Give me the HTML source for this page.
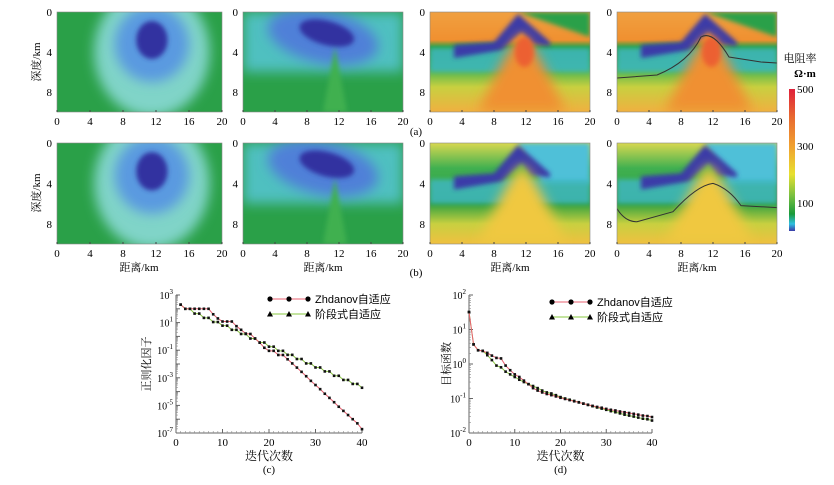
<!DOCTYPE html>
<html><head><meta charset="utf-8">
<style>
html,body{margin:0;padding:0;background:#fff;}
body{width:834px;height:480px;overflow:hidden;position:relative;font-family:"Liberation Serif","Noto Serif CJK SC",serif;}
svg text{font-family:"Liberation Serif","Noto Serif CJK SC",serif;}
svg text.sans{font-family:"Liberation Sans","Noto Sans CJK SC",sans-serif;}
</style></head>
<body>
<svg id="fig" width="834" height="480" viewBox="0 0 834 480">
<defs>
<filter id="bl" x="-30%" y="-30%" width="160%" height="160%"><feGaussianBlur stdDeviation="6"/></filter>
<filter id="bl2" x="-30%" y="-30%" width="160%" height="160%"><feGaussianBlur stdDeviation="2.5"/></filter>
<linearGradient id="cbar" x1="0" y1="1" x2="0" y2="0">
<stop offset="0" stop-color="#3a3aa8"/><stop offset="0.05" stop-color="#30c0e0"/><stop offset="0.12" stop-color="#1a9a3a"/><stop offset="0.25" stop-color="#7ac040"/><stop offset="0.4" stop-color="#e8e030"/><stop offset="0.6" stop-color="#f0a030"/><stop offset="0.8" stop-color="#e86a30"/><stop offset="1" stop-color="#e0203a"/>
</linearGradient>
<linearGradient id="g3" x1="0" y1="0" x2="0" y2="1">
<stop offset="0" stop-color="#f0a040"/><stop offset="0.28" stop-color="#f09030"/><stop offset="0.35" stop-color="#2aa040"/><stop offset="0.55" stop-color="#3ab050"/><stop offset="0.75" stop-color="#c8d040"/><stop offset="1" stop-color="#f0b040"/>
</linearGradient>
<linearGradient id="g3b" x1="0" y1="0" x2="0" y2="1">
<stop offset="0" stop-color="#d8d850"/><stop offset="0.25" stop-color="#40b050"/><stop offset="0.6" stop-color="#30a040"/><stop offset="0.8" stop-color="#c8d040"/><stop offset="1" stop-color="#f0c040"/>
</linearGradient>
</defs>

<g id="panels"></g>

<rect x="789" y="89" width="6" height="142" fill="url(#cbar)"/>
<text x="800" y="62" font-size="11" text-anchor="middle">电阻率</text>
<text x="805" y="77" font-size="11" font-weight="bold" text-anchor="middle">Ω·m</text>
<text x="797" y="93" font-size="11">500</text>
<text x="797" y="150" font-size="11">300</text>
<text x="797" y="207" font-size="11">100</text>
<text x="416" y="135" font-size="11" text-anchor="middle">(a)</text>
<text x="416" y="276" font-size="11" text-anchor="middle">(b)</text>
<g id="charts"></g>
</svg>
<script>
const NS='http://www.w3.org/2000/svg';
function mk(tag,attrs,parent){const e=document.createElementNS(NS,tag);for(const k in attrs)e.setAttribute(k,attrs[k]);parent.appendChild(e);return e;}
const panelsG=document.getElementById('panels');
const panelXs=[57,243,430,617];
const panelW=160;
const rows=[{y:12,h:100,ty:125},{y:143,h:101,ty:257}];
const xTicks=[0,4,8,12,16,20];
const yTicks=[0,4,8];

function drawPanel(pi,ri){
  const x0=panelXs[pi], W=(pi===0?165:panelW), y0=rows[ri].y, H=rows[ri].h;
  const g=mk('g',{},panelsG);
  
  
  const cid='clip'+pi+ri;
  const cp=mk('clipPath',{id:cid},g); mk('rect',{x:x0,y:y0,width:W,height:H},cp);
  const c=mk('g',{'clip-path':'url(#'+cid+')'},g);
  const X=km=>x0+km/20*W, Y=km=>y0+km/10*H, S=W/20;
  const P=pts=>'M'+pts.map(p=>X(p[0])+' '+Y(p[1])).join(' L')+' Z';
  if(pi===0){
    mk('rect',{x:x0,y:y0,width:W,height:H,fill:'#2aa048'},c);
    mk('ellipse',{cx:X(11.5),cy:Y(4),rx:7*S,ry:6.5*H/10,fill:'#80d4c8',filter:'url(#bl)'},c);
    mk('ellipse',{cx:X(11.5),cy:Y(3.2),rx:4.5*S,ry:3.8*H/10,fill:'#5a9ae0',filter:'url(#bl)'},c);
    mk('ellipse',{cx:X(11.5),cy:Y(2.8),rx:1.9*S,ry:1.9*H/10,fill:'#3030a0',filter:'url(#bl2)'},c);
  } else if(pi===1){
    mk('rect',{x:x0,y:y0,width:W,height:H,fill:'#2aa048'},c);
    mk('rect',{x:x0,y:y0,width:W,height:H*0.6,fill:'#50c0c0',filter:'url(#bl)'},c);
    mk('ellipse',{cx:X(10),cy:Y(2.5),rx:7*S,ry:2.6*H/10,fill:'#5080d8',filter:'url(#bl)',transform:'rotate(12 '+X(10)+' '+Y(2.5)+')'},c);
    mk('ellipse',{cx:X(10.5),cy:Y(2),rx:3.5*S,ry:1.2*H/10,fill:'#3030a0',filter:'url(#bl2)',transform:'rotate(15 '+X(10)+' '+Y(2)+')'},c);
    mk('path',{d:'M'+X(10)+' '+Y(10)+' L'+X(11.5)+' '+Y(3.5)+' L'+X(13)+' '+Y(10)+' Z',fill:'#40b050',filter:'url(#bl2)'},c);
  } else {
    mk('rect',{x:x0,y:y0,width:W,height:H,fill:'url(#'+(ri===0?'g3':'g3b')+')'},c);
    if(ri===0){
      mk('path',{d:P([[11,0],[20,0],[20,2.5]]),fill:'#2aa048',filter:'url(#bl2)'},c);
    } else {
      mk('path',{d:P([[11,0],[20,0],[20,4],[14,4]]),fill:'#50c0d8',filter:'url(#bl2)'},c);
    }
    mk('rect',{x:x0,y:Y(3.6),width:W,height:2.4*H/10,fill:'#40b8c8',filter:'url(#bl2)',opacity:0.8},c);
    mk('path',{d:P([[3,3.3],[8,3],[11,0.2],[15,3],[15,3.4],[12.5,3.2],[11.5,2],[9,3.8],[3,4.6]]),fill:'#3a3aa8',filter:'url(#bl2)'},c);
    mk('path',{d:'M'+X(6)+' '+Y(10)+' Q'+X(10)+' '+Y(3)+' '+X(11.5)+' '+Y(2.2)+' Q'+X(13)+' '+Y(3)+' '+X(17)+' '+Y(10)+' Z',fill:ri===0?'#f09030':'#f0c840',filter:'url(#bl)'},c);
    if(ri===0) mk('ellipse',{cx:X(11.8),cy:Y(4),rx:1.2*S,ry:1.5*H/10,fill:'#ec6030',filter:'url(#bl2)'},c);
    if(pi===3){
      const d=ri===0?
        'M'+X(0)+' '+Y(6.6)+' L'+X(5)+' '+Y(6.3)+' Q'+X(9)+' '+Y(5)+' '+X(10.5)+' '+Y(2.5)+' Q'+X(12)+' '+Y(1.8)+' '+X(14)+' '+Y(4.5)+' L'+X(18)+' '+Y(5)+' L'+X(20)+' '+Y(5.1):
        'M'+X(0)+' '+Y(6.5)+' Q'+X(1)+' '+Y(7.8)+' '+X(2.5)+' '+Y(7.8)+' L'+X(7)+' '+Y(6.8)+' Q'+X(10)+' '+Y(4.2)+' '+X(12)+' '+Y(4)+' Q'+X(14)+' '+Y(4.5)+' '+X(15.5)+' '+Y(6.2)+' L'+X(20)+' '+Y(6.4);
      const l=mk('path',{d:d,fill:'none',stroke:'#333',"stroke-width":1},c);
      
      
    }
  }
  mk('rect',{x:x0,y:y0,width:W,height:H,fill:'none',stroke:'#888','stroke-width':0.6},g);
  xTicks.forEach(t=>{
    mk('line',{x1:X(t),x2:X(t),y1:y0+H,y2:y0+H-2,stroke:'#444'},g);
    const tx=mk('text',{x:X(t),y:rows[ri].ty,'font-size':11,'text-anchor':'middle'},g);tx.textContent=t;
    
    
  });
  yTicks.forEach(t=>{
    const tx=mk('text',{x:x0-5,y:Y(t)+4,'font-size':11,'text-anchor':'end'},g);tx.textContent=t;
    
    
  });
}
for(let r=0;r<2;r++)for(let p=0;p<4;p++)drawPanel(p,r);
[[40,62],[40,193]].forEach(([x,y])=>{
  const t=mk('text',{x:x,y:y,'font-size':11,'text-anchor':'middle',transform:'rotate(-90 '+x+' '+y+')'},panelsG);t.textContent='深度/km';
  
  
});
[139,323,510,697].forEach(x=>{
  const t=mk('text',{x:x,y:271,'font-size':11,'text-anchor':'middle'},panelsG);t.textContent='距离/km';
  
  
});

const iterC=[1,2,3,4,5,6,7,8,9,10,11,12,13,14,15,16,17,18,19,20,21,22,23,24,25,26,27,28,29,30,31,32,33,34,35,36,37,38,39,40];
const zhdanovC=[200,100,100,100,100,100,100,40,20,12,12,12,5.5,3,1.6,1.5,0.7,0.35,0.15,0.09,0.09,0.045,0.045,0.022,0.011,0.0055,0.0027,0.0013,0.0006,0.0003,0.00015,0.00007,0.000035,0.000017,0.000008,0.000004,0.000002,0.000001,0.0000005,0.00000019];
const stageC=[200,100,100,45,45,22,22,11,11,6,6,3,3,1.5,1.5,0.7,0.7,0.36,0.36,0.18,0.18,0.09,0.09,0.046,0.046,0.023,0.023,0.011,0.011,0.0056,0.0056,0.0029,0.0029,0.0014,0.0014,0.0007,0.0007,0.00036,0.00036,0.00019];
const iterD=[0,1,2,3,4,5,6,7,8,9,10,11,12,13,14,15,16,17,18,19,20,21,22,23,24,25,26,27,28,29,30,31,32,33,34,35,36,37,38,39,40];
const zhdanovD=[32,3.7,2.5,2.4,2.1,1.75,1.5,1.45,0.9,0.66,0.5,0.42,0.33,0.26,0.2,0.17,0.15,0.135,0.125,0.115,0.105,0.097,0.09,0.083,0.077,0.071,0.066,0.061,0.057,0.054,0.05,0.047,0.045,0.042,0.04,0.038,0.036,0.034,0.032,0.031,0.029];
const stageD=[32,3.7,2.5,2.4,1.8,1.3,0.9,0.8,0.6,0.5,0.42,0.35,0.3,0.26,0.23,0.2,0.17,0.15,0.14,0.125,0.11,0.1,0.092,0.085,0.078,0.071,0.065,0.06,0.055,0.051,0.047,0.043,0.04,0.037,0.034,0.032,0.03,0.028,0.026,0.025,0.023];
const xTicksLine=[0,10,20,30,40];
const yExpC=[3,1,-1,-3,-5,-7];
const yExpD=[2,1,0,-1,-2];

const chartsG=document.getElementById('charts');
function drawChart(o){
  const g=mk('g',{},chartsG);
  
  
  const {x0,x1,y0,y1,emax,emin}=o;
  const X=v=>x0+v/40*(x1-x0);
  const Y=v=>y0+(emax-Math.log10(v))/(emax-emin)*(y1-y0);
  mk('line',{x1:x0,x2:x0,y1:y0,y2:y1,stroke:'#666'},g);
  mk('line',{x1:x0,x2:x1,y1:y1,y2:y1,stroke:'#666'},g);
  for(let e=emin;e<=emax;e++){
    mk('line',{x1:x0,x2:x0+4,y1:Y(Math.pow(10,e)),y2:Y(Math.pow(10,e)),stroke:'#666'},g);
    if(e<emax) for(let m=2;m<10;m++){const yy=Y(m*Math.pow(10,e));mk('line',{x1:x0,x2:x0+2,y1:yy,y2:yy,stroke:'#888','stroke-width':0.6},g);}
  }
  o.yExp.forEach(e=>{
    const t=mk('text',{x:x0-3,y:Y(Math.pow(10,e))+4,'font-size':10,'text-anchor':'end'},g);
    t.textContent='10';
    const s=mk('tspan',{dy:-5,'font-size':7},t);s.textContent=e;
    
    
  });
  xTicksLine.forEach(v=>{
    mk('line',{x1:X(v),x2:X(v),y1:y1,y2:y1-4,stroke:'#666'},g);
    for(let m=1;m<10;m++){if(v+m>40)break;mk('line',{x1:X(v+m),x2:X(v+m),y1:y1,y2:y1-2,stroke:'#888','stroke-width':0.6},g);}
    const t=mk('text',{x:X(v),y:y1+13,'font-size':11,'text-anchor':'middle'},g);t.textContent=v;
    
    
  });
  function series(xs,ys,color,nm){
    const sg=mk('g',{},g);
    
    
    mk('polyline',{points:xs.map((x,i)=>X(x)+','+Y(ys[i])).join(' '),fill:'none',stroke:color,'stroke-width':1},sg);
    xs.forEach((x,i)=>{mk('rect',{x:X(x)-1.3,y:Y(ys[i])-1.3,width:2.6,height:2.6,fill:'#111'},sg);});
  }
  series(o.xs,o.b,'#8ac840','stage-series');
  series(o.xs,o.a,'#e86070','zhdanov-series');
  const t1=mk('text',{x:(x0+x1)/2,y:y1+27,'font-size':12,'text-anchor':'middle'},g);t1.textContent='迭代次数';
  
  
  const t2=mk('text',{x:(x0+x1)/2,y:y1+40,'font-size':11,'text-anchor':'middle'},g);t2.textContent=o.label;
  
  
  const ty=(y0+y1)/2, tx=o.titleX;
  const t3=mk('text',{x:tx,y:ty,'font-size':11,'text-anchor':'middle',transform:'rotate(-90 '+tx+' '+ty+')'},g);t3.textContent=o.title;
  
  
  const lg=mk('g',{},g);
  
  
  const lx=o.lx, ly=o.ly;
  mk('line',{x1:lx,x2:lx+38,y1:ly,y2:ly,stroke:'#e86070'},lg);
  [0,19,38].forEach(d=>mk('circle',{cx:lx+d,cy:ly,r:2.6,fill:'#000'},lg));
  const a=mk('text',{x:lx+45,y:ly+4,'font-size':11,'class':'sans'},lg);a.textContent='Zhdanov自适应';
  
  
  mk('line',{x1:lx,x2:lx+38,y1:ly+15,y2:ly+15,stroke:'#8ac840'},lg);
  [0,19,38].forEach(d=>mk('path',{d:'M'+(lx+d-3)+' '+(ly+17.5)+' L'+(lx+d)+' '+(ly+12)+' L'+(lx+d+3)+' '+(ly+17.5)+' Z',fill:'#000'},lg));
  const b=mk('text',{x:lx+45,y:ly+19,'font-size':11,'class':'sans'},lg);b.textContent='阶段式自适应';
  
  
}
drawChart({name:'regularization-chart',x0:176,x1:362,y0:295,y1:433,emax:3,emin:-7,yExp:yExpC,xs:iterC,a:zhdanovC,b:stageC,label:'(c)',title:'正则化因子',titleX:150,lx:270,ly:299});
drawChart({name:'objective-chart',x0:469,x1:652,y0:295,y1:433,emax:2,emin:-2,yExp:yExpD,xs:iterD,a:zhdanovD,b:stageD,label:'(d)',title:'目标函数',titleX:450,lx:552,ly:302});
</script>
</body></html>
